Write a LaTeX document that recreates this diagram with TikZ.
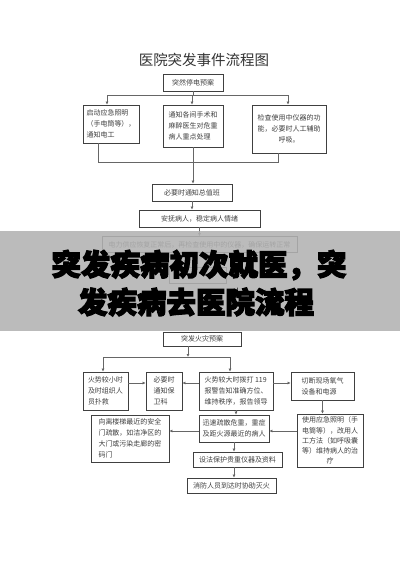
\documentclass[tikz,border=0pt]{standalone}
\usepackage{fontspec}
\newfontfamily\cjk{Noto Sans CJK SC}
\newfontfamily\cjkbanner[BoldFeatures={FakeBold=4}]{Noto Sans CJK SC}
\usetikzlibrary{arrows.meta}

\begin{document}
\begin{tikzpicture}[x=1pt,y=-1pt,
    box/.style={draw=black!75,line width=0.7pt,font=\cjk\fontsize{7}{11}\selectfont,text=black!75,inner sep=2pt},
    line/.style={draw=black!60,line width=0.6pt},
    arr/.style={line,-{Latex[length=3pt,width=3pt]}},
    bannertext/.style={font=\cjkbanner\bfseries\fontsize{29.5}{30}\selectfont,text=black}]

    \useasboundingbox[fill=white] (0,0) rectangle (400,566);

    \node[font=\cjk\fontsize{14.5}{15}\selectfont,text=black!80] (title) at (204,60) {医院突发事件流程图};

    \node[box,minimum width=60pt,minimum height=17pt] (p0) at (193,82.5) {突然停电预案};
    \node[box,minimum width=56pt,minimum height=38pt,align=left] (p1) at (111,124) {启动应急照明\\（手电筒等），\\通知电工};
    \node[box,minimum width=60pt,minimum height=42pt,align=left] (p2) at (193,126) {通知各间手术和\\麻醉医生对危重\\病人重点处理};
    \node[box,minimum width=74pt,minimum height=48pt,align=center] (p3) at (289,129) {检查使用中仪器的功\\能，必要时人工辅助\\呼吸。};
    \node[box,minimum width=80pt,minimum height=17pt] (p4) at (192,192.5) {必要时通知总值班};
    \node[box,minimum width=121pt,minimum height=17pt] (p5) at (199.5,218.5) {安抚病人，稳定病人情绪};
    \node[box,minimum width=195pt,minimum height=16pt] (p6) at (199.5,244.5) {电力供应恢复正常后，再检查使用中的仪器，确保运转正常};
    \node[box,minimum width=57pt,minimum height=16pt] (p7) at (198,275) {};

    \coordinate (pl) at (107,95);
    \coordinate (pm) at (192,95);
    \coordinate (pr) at (288,95);
    \coordinate (jl) at (98,162);
    \coordinate (jr) at (278,162);

    \draw[line] (p0.south |- pm) -- (p0.south);
    \draw[line] (pl) -- (pr);
    \draw[arr] (pl) -- (pl |- p1.north);
    \draw[arr] (pm) -- (pm |- p2.north);
    \draw[arr] (pr) -- (pr |- p3.north);
    \draw[line] (p1.south -| jl) -- (jl) -- (jr) -- (p3.south -| jr);
    \draw[arr] (p2.south) -- (p2.south |- p4.north);
    \draw[arr] (p4.south) -- (p4.south |- p5.north);
    \draw[arr] (p5.south) -- (p5.south |- p6.north);

    \fill[black!30,fill opacity=0.88] (0,231) rectangle (400,331);
    \node[bannertext] (b1) at (199,265) {突发疾病初次就医，突};
    \node[bannertext] (b2) at (196,302) {发疾病去医院流程};

    \node[box,minimum width=78pt,minimum height=14pt] (f0) at (202,339) {突发火灾预案};
    \node[box,line width=0.9pt,minimum width=45pt,minimum height=38pt,align=left] (f1) at (105.5,391) {火势较小时\\及时组织人\\员扑救};
    \node[box,minimum width=36pt,minimum height=38pt,align=left] (f2) at (164,391) {必要时\\通知保\\卫科};
    \node[box,line width=0.9pt,minimum width=74pt,minimum height=38pt,align=left] (f3) at (236,391) {火势较大时拨打 119\\报警告知准确方位、\\维持秩序，报告领导};
    \node[box,line width=0.9pt,minimum width=63pt,minimum height=28pt,align=left] (f4) at (322.5,386) {切断现场氧气\\设备和电源};
    \node[box,line width=0.9pt,minimum width=78pt,minimum height=47pt,align=left] (f5) at (130,438.5) {向离楼梯最近的安全\\门疏散，如洁净区的\\大门或污染走廊的密\\码门};
    \node[box,line width=0.9pt,minimum width=70pt,minimum height=27pt,align=left] (f6) at (234,428.5) {迅速疏散危重，重症\\及距火源最近的病人};
    \node[box,line width=0.9pt,minimum width=66pt,minimum height=53pt,align=center,font=\cjk\fontsize{7}{10.2}\selectfont] (f7) at (330,440.5) {使用应急照明（手\\电筒等），改用人\\工方法（如呼吸囊\\等）维持病人的治\\疗};
    \node[box,minimum width=89pt,minimum height=15pt] (f8) at (237.5,459.5) {设法保护贵重仪器及资料};
    \node[box,line width=0.9pt,minimum width=89pt,minimum height=15pt] (f9) at (231.5,485.5) {消防人员到达时协助灭火};

    \coordinate (fl) at (103,357);
    \coordinate (fm) at (188,357);
    \coordinate (fr) at (230,357);

    \draw[arr] (f0.south -| fm) -- (fm);
    \draw[line] (fl) -- (fr);
    \draw[arr] (fl) -- (fl |- f1.north);
    \draw[arr] (fr) -- (fr |- f3.north);
    \draw[arr] ([yshift=8pt]f1.east) -- ([yshift=8pt]f2.west);
    \draw[arr] ([yshift=8pt]f3.west) -- ([yshift=8pt]f2.east);
    \draw[arr] ([yshift=8pt]f3.west -| f3.east) -- ([yshift=8pt]f3.west -| f4.west);
    \draw[arr] (f4.south) -- (f4.south |- f7.north);
    \draw[arr] (f3.south) -- (f3.south |- f6.north);
    \draw[arr] ([yshift=-2.5pt]f6.west) -- ([yshift=-2.5pt]f6.west -| f5.east);
    \draw[arr] ([yshift=-2.5pt]f6.west -| f7.west) -- ([yshift=-2.5pt]f6.east);
    \draw[arr] (f6.south) -- (f6.south |- f8.north);
    \draw[arr] (f8.south -| f6.south) -- (f6.south |- f9.north);

\end{tikzpicture}
\end{document}
